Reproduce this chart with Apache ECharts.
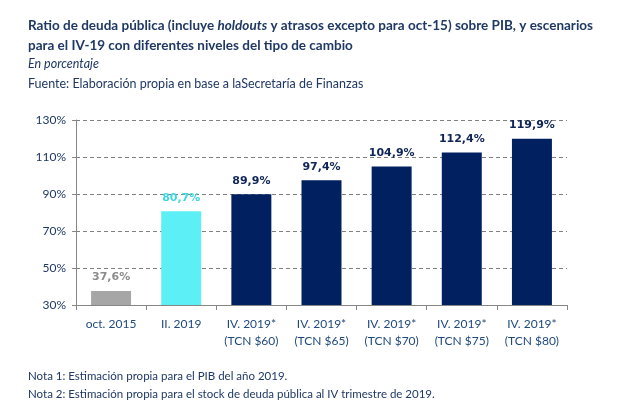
<!DOCTYPE html>
<html><head><meta charset="utf-8">
<script src="https://cdn.jsdelivr.net/npm/echarts@6/dist/echarts.min.js"></script>
<style>html,body{margin:0;padding:0;background:#fff}#c{width:617px;height:411px}</style>
</head><body><div id="c"></div>
<script>
var categories = ['oct. 2015', 'II. 2019', 'IV. 2019*\n(TCN $60)', 'IV. 2019*\n(TCN $65)', 'IV. 2019*\n(TCN $70)', 'IV. 2019*\n(TCN $75)', 'IV. 2019*\n(TCN $80)'];
var values = [37.6, 80.7, 89.9, 97.4, 104.9, 112.4, 119.9];
var barColors = ['#A6A6A6', '#5CEFF5', '#002060', '#002060', '#002060', '#002060', '#002060'];
var labelColors = ['#8C8C8C', '#3FD6E0', '#0F2557', '#0F2557', '#0F2557', '#0F2557', '#0F2557'];
var yTicks = [30, 50, 70, 90, 110, 130];

var FF = 'Lato, "Noto Sans", sans-serif';
var chart = echarts.init(document.getElementById('c'));
chart.setOption({
  animation: false,
  textStyle: {fontFamily: FF},
  title: [
    {text: 'Ratio de deuda pública (incluye {i|holdouts} y atrasos excepto para oct-15) sobre PIB, y escenarios\npara el IV-19 con diferentes niveles del tipo de cambio',
     left: 23, top: 11,
     textStyle: {fontFamily: FF, fontSize: 13.5, fontWeight: 'bold', color: '#1F3864', lineHeight: 20,
       rich: {i: {fontFamily: FF, fontSize: 13.5, fontWeight: 'bold', fontStyle: 'italic', color: '#1F3864'}}}},
    {text: 'En porcentaje', left: 23, top: 52,
     textStyle: {fontFamily: FF, fontSize: 12.5, fontStyle: 'italic', fontWeight: 'normal', color: '#1F3864'}},
    {text: 'Fuente: Elaboración propia en base a laSecretaría de Finanzas', left: 23, top: 72,
     textStyle: {fontFamily: FF, fontSize: 12.5, fontWeight: 'normal', color: '#1F3864'}},
    {text: 'Nota 1: Estimación propia para el PIB del año 2019.\nNota 2: Estimación propia para el stock de deuda pública al IV trimestre de 2019.',
     left: 23, top: 362,
     textStyle: {fontFamily: FF, fontSize: 11.5, fontWeight: 'normal', color: '#1F3864', lineHeight: 18}}
  ],
  grid: {left: 76, right: 50, top: 120, bottom: 106},
  xAxis: {
    type: 'category', data: categories,
    axisLine: {lineStyle: {color: '#868686'}},
    axisTick: {show: true, alignWithLabel: false, length: 5, lineStyle: {color: '#868686'}},
    axisLabel: {interval: 0, color: '#1F497D', fontSize: 12, lineHeight: 17, margin: 11, fontFamily: FF}
  },
  yAxis: {
    type: 'value', min: 30, max: 130, interval: 20,
    axisLine: {show: true, lineStyle: {color: '#868686'}},
    axisTick: {show: true, length: 4, lineStyle: {color: '#868686'}},
    axisLabel: {color: '#1F3864', fontSize: 12, margin: 10, fontFamily: FF, formatter: '{value}%'},
    splitLine: {lineStyle: {color: '#808080', type: [4, 3], width: 1}}
  },
  series: [{
    type: 'bar', barWidth: '57%',
    data: values.map(function (v, i) {
      return {value: v, itemStyle: {color: barColors[i]},
        label: {color: labelColors[i]}};
    }),
    label: {show: true, position: 'top', distance: 8, fontSize: 11, fontWeight: 'bold', fontFamily: '"DejaVu Sans", sans-serif',
      formatter: function (p) { return p.value.toFixed(1).replace('.', ',') + '%'; }}
  }]
});
</script></body></html>
